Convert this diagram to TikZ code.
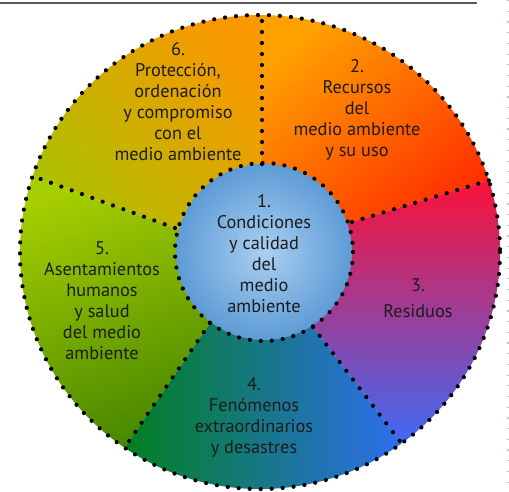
\documentclass[tikz,border=0pt]{standalone}
\usepackage{fontspec}
\setmainfont{PT Sans}
\definecolor{txt}{HTML}{1C1C1C}
\definecolor{sixA}{HTML}{A9C200}
\definecolor{sixB}{HTML}{F99800}
\definecolor{twoA}{HTML}{FFA200}
\definecolor{twoB}{HTML}{FF2A00}
\definecolor{thrA}{HTML}{FF1034}
\definecolor{thrM}{HTML}{C83CB0}
\definecolor{thrB}{HTML}{3A6CFA}
\definecolor{fouA}{HTML}{00801C}
\definecolor{fouB}{HTML}{2F6EF2}
\definecolor{fivA}{HTML}{A6CE00}
\definecolor{fivB}{HTML}{468600}
\definecolor{innA}{HTML}{AAD0F0}
\definecolor{innB}{HTML}{5E9BD6}
\definecolor{rule}{HTML}{5A5A5A}
\definecolor{edge}{HTML}{B4CACA}
\begin{document}
\begin{tikzpicture}[x=1pt,y=-1pt,
  dotline/.style={line width=4.2pt, line cap=round, dash pattern=on 0pt off 11pt},
  lbl/.style={align=center, font=\fontsize{18.3}{21}\selectfont, text=txt, inner sep=0pt}]
\useasboundingbox (0,0) rectangle (509,491);
% key points
\coordinate (O) at (260,252);
\coordinate (C) at (264,252);
\coordinate (a1) at (262,164); \coordinate (a2) at (262,15);  \coordinate (a3) at (262,-30);
\coordinate (b1) at (352,222); \coordinate (b2) at (490,180); \coordinate (b3) at (600,146);
\coordinate (c1) at (313,327); \coordinate (c2) at (402,444); \coordinate (c3) at (450,507);
\coordinate (d1) at (210,323); \coordinate (d2) at (125,447); \coordinate (d3) at (90,498);
\coordinate (e1) at (175,228); \coordinate (e2) at (35,177);  \coordinate (e3) at (-49,146);
% segment 2
\begin{scope}
  \clip (O) ellipse [x radius=240, y radius=237];
  \clip (C) -- (a1) -- (a3) -- (600,-30) -- (b3) -- (b1) -- cycle;
  \shade[top color=twoA, bottom color=twoB, shading angle=40] (255,10) rectangle (505,235);
\end{scope}
% segment 3
\begin{scope}
  \clip (O) ellipse [x radius=240, y radius=237];
  \clip (C) -- (b1) -- (b3) -- (600,520) -- (c3) -- (c1) -- cycle;
  \shade[top color=thrA, middle color=thrM, bottom color=thrB] (300,175) rectangle (505,450);
\end{scope}
% segment 4
\begin{scope}
  \clip (O) ellipse [x radius=240, y radius=237];
  \clip (C) -- (c1) -- (c3) -- (d3) -- (d1) -- cycle;
  \shade[left color=fouA, right color=fouB] (120,315) rectangle (405,492);
\end{scope}
% segment 5
\begin{scope}
  \clip (O) ellipse [x radius=240, y radius=237];
  \clip (C) -- (d1) -- (d3) -- (-60,520) -- (-60,146) -- (e3) -- (e1) -- cycle;
  \shade[top color=fivA, bottom color=fivB, shading angle=20] (15,170) rectangle (220,455);
\end{scope}
% segment 6
\begin{scope}
  \clip (O) ellipse [x radius=240, y radius=237];
  \clip (C) -- (e1) -- (e3) -- (-60,-30) -- (a3) -- (a1) -- cycle;
  \shade[top color=sixB, bottom color=sixA, shading angle=-50] (15,10) rectangle (268,240);
\end{scope}
% inner circle
\shade[inner color=innA, outer color=innB] (C) circle [radius=88];
% dotted outlines
\draw[dotline] (O) ellipse [x radius=240, y radius=237];
\draw[dotline] (a1) -- (a2);
\draw[dotline] (b1) -- (b2);
\draw[dotline] (c1) -- (c2);
\draw[dotline] (d1) -- (d2);
\draw[dotline] (e1) -- (e2);
\draw[dotline] (C) circle [radius=89];
% page rules
\coordinate (r1) at (0,3); \coordinate (r2) at (477,3);
\draw[rule, line width=1.3pt] (r1) -- (r2);
\coordinate (s1) at (508,0); \coordinate (s2) at (508,491);
\draw[edge, line width=1.6pt, dash pattern=on 1.2pt off 9.5pt] (s1) -- (s2);
% labels
\node[lbl] (t1) at (264,254) {1.\\Condiciones\\y calidad\\del\\medio\\ambiente};
\node[lbl] (t6) at (178,102) {6.\\Protección,\\ordenación\\y compromiso\\con el\\medio ambiente};
\node[lbl] (t2) at (357,110) {2.\\Recursos\\del\\medio ambiente\\y su uso};
\node[lbl] (t3) at (418,298) {3.\\[5pt]Residuos};
\node[lbl] (t4) at (254,417) {4.\\Fenómenos\\extraordinarios\\y desastres};
\node[lbl] (t5) at (102,301) {5.\\Asentamientos\\humanos\\y salud\\del medio\\ambiente};
\end{tikzpicture}
\end{document}
